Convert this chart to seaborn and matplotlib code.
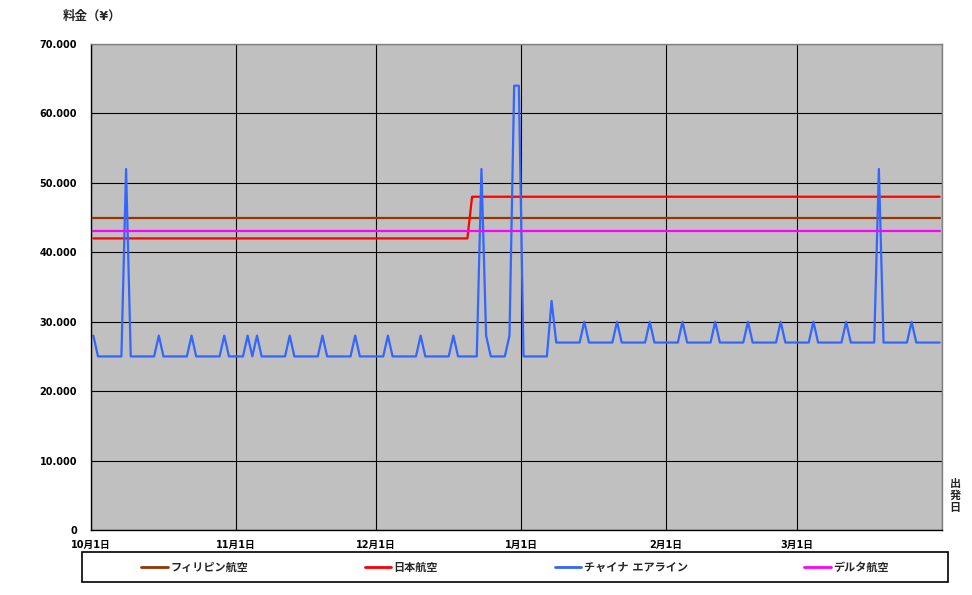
import numpy as np
import pandas as pd
import matplotlib
matplotlib.use('Agg')
import matplotlib.pyplot as plt
import matplotlib.dates as mdates
from matplotlib.ticker import FuncFormatter, MultipleLocator
from matplotlib.patches import Rectangle
import seaborn as sns

# ---- data ----
start_date = '2008-10-01'
n_days = 182

airlines = ['フィリピン航空', '日本航空', 'チャイナ エアライン', 'デルタ航空']
line_colors = ['#993300', '#FF0000', '#3366FF', '#FF00FF']

# (fare in yen, number of consecutive days)
philippine_runs = [(45000, 182)]
jal_runs = [(42000, 81), (48000, 101)]
delta_runs = [(43000, 182)]
china_runs = [
    (28000, 1), (25000, 6), (52000, 1), (25000, 6), (28000, 1), (25000, 6),
    (28000, 1), (25000, 6), (28000, 1), (25000, 4), (28000, 1), (25000, 1),
    (28000, 1), (25000, 6), (28000, 1), (25000, 6), (28000, 1), (25000, 6),
    (28000, 1), (25000, 6), (28000, 1), (25000, 6), (28000, 1), (25000, 6),
    (28000, 1), (25000, 5), (52000, 1), (28000, 1), (25000, 4), (28000, 1),
    (64000, 2), (25000, 6), (33000, 1), (27000, 6), (30000, 1), (27000, 6),
    (30000, 1), (27000, 6), (30000, 1), (27000, 6), (30000, 1), (27000, 6),
    (30000, 1), (27000, 6), (30000, 1), (27000, 6), (30000, 1), (27000, 6),
    (30000, 1), (27000, 6), (30000, 1), (27000, 6), (52000, 1), (27000, 6),
    (30000, 1), (27000, 6),
]


def expand(runs):
    vals = []
    for v, n in runs:
        vals += [v] * n
    assert len(vals) == n_days
    return vals


# points sit in the middle of each day slot (Excel "between tick marks")
dates = pd.date_range(start_date, periods=n_days, freq='D') + pd.Timedelta(hours=12)
series = {
    airlines[0]: expand(philippine_runs),
    airlines[1]: expand(jal_runs),
    airlines[2]: expand(china_runs),
    airlines[3]: expand(delta_runs),
}
df = pd.concat([pd.DataFrame({'date': dates, 'fare': v, 'airline': k})
                for k, v in series.items()], ignore_index=True)

# ---- style ----
sns.set_theme(style='white')
plt.rcParams['font.family'] = ['DejaVu Sans', 'Noto Sans CJK JP']
plt.rcParams['font.weight'] = 'bold'

fig = plt.figure(figsize=(9.72, 5.95), dpi=100)
ax = fig.add_axes([91 / 972, 65 / 595, 851 / 972, 486 / 595])
ax.set_facecolor('#C0C0C0')

sns.lineplot(data=df, x='date', y='fare', hue='airline', hue_order=airlines,
             palette=dict(zip(airlines, line_colors)), linewidth=1.6, ax=ax)

handles, labels = ax.get_legend_handles_labels()
ax.get_legend().remove()

ax.set_xlim(pd.Timestamp('2008-10-01'), pd.Timestamp('2009-04-01'))
ax.set_ylim(0, 70000)
ax.xaxis.set_major_locator(mdates.MonthLocator())
ax.xaxis.set_major_formatter(FuncFormatter(
    lambda x, pos: '' if mdates.num2date(x).month == 4 else
    f'{mdates.num2date(x).month}月{mdates.num2date(x).day}日'))
ax.yaxis.set_major_locator(MultipleLocator(10000))
ax.yaxis.set_major_formatter(FuncFormatter(
    lambda v, pos: '0' if v == 0 else f'{v:,.0f}'.replace(',', '.')))

ax.grid(True, color='black', linewidth=0.8)
ax.set_axisbelow(True)
ax.tick_params(axis='both', length=0, labelsize=7, colors='black')
ax.tick_params(axis='y', pad=10)
ax.tick_params(axis='x', pad=7)
for lbl in ax.get_xticklabels() + ax.get_yticklabels():
    lbl.set_fontweight('bold')
ax.set_xlabel('')
ax.set_ylabel('')

for side in ['left', 'bottom']:
    ax.spines[side].set_color('black')
    ax.spines[side].set_linewidth(1.0)
for side in ['top', 'right']:
    ax.spines[side].set_color('#808080')
    ax.spines[side].set_linewidth(1.0)

fig.text(92 / 972, 1 - 16 / 595, '料金（¥）', ha='center', va='center',
         fontsize=9, fontweight='bold')
fig.text(955 / 972, 1 - 496 / 595, '出\n発\n日', ha='center', va='center',
         fontsize=8, fontweight='bold', linespacing=1.25)

# legend box below the plot
fig.patches.append(Rectangle((82 / 972, 1 - 582 / 595), 866 / 972, 30 / 595,
                             transform=fig.transFigure, facecolor='white',
                             edgecolor='black', linewidth=1.2))
for h in handles:
    h.set_linewidth(2)
fig.legend(handles, labels, loc='center', bbox_to_anchor=(515 / 972, 1 - 567 / 595),
           ncol=4, frameon=False, fontsize=8, handlelength=2.4,
           handletextpad=0.2, columnspacing=10.5,
           prop={'weight': 'bold', 'size': 8})

fig.savefig('out.png', dpi=100)
